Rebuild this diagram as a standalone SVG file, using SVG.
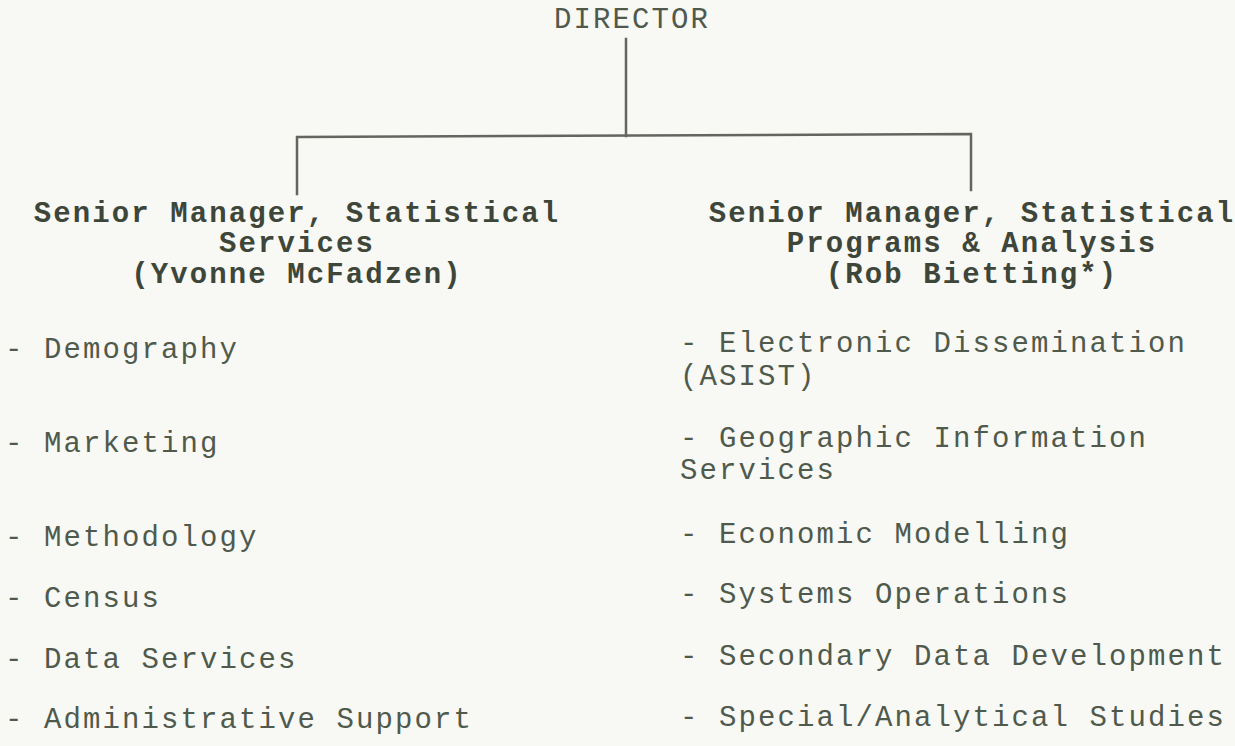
<svg xmlns="http://www.w3.org/2000/svg" width="1235" height="746" viewBox="0 0 1235 746">
<style>
  .t { font-family: "Liberation Mono", "Courier New", monospace; font-size: 29px; letter-spacing: 2.1px; fill: #4f5a4c; }
  .h { font-weight: bold; fill: #3d4639; text-anchor: middle; }
  .c { text-anchor: middle; }
  .ln { stroke: #62665f; stroke-width: 2.5; fill: none; stroke-linecap: square; }
</style>
<rect width="1235" height="746" fill="#f8f8f5"/>
<g id="connectors">
  <path class="ln" d="M626 39 V136"/>
  <path class="ln" d="M297 194 V137 L971 134 V190"/>
</g>
<g id="director">
  <text class="t c" x="632" y="28">DIRECTOR</text>
</g>
<g id="senior-manager-services">
  <text class="t h" x="297" y="222">Senior Manager, Statistical</text>
  <text class="t h" x="297" y="252">Services</text>
  <text class="t h" x="297" y="283">(Yvonne McFadzen)</text>
</g>
<g id="senior-manager-programs">
  <text class="t h" x="972" y="222">Senior Manager, Statistical</text>
  <text class="t h" x="972" y="252">Programs &amp; Analysis</text>
  <text class="t h" x="972" y="283">(Rob Bietting*)</text>
</g>
<g id="services-units">
  <text class="t" x="5" y="358">- Demography</text>
  <text class="t" x="5" y="452">- Marketing</text>
  <text class="t" x="5" y="546">- Methodology</text>
  <text class="t" x="5" y="607">- Census</text>
  <text class="t" x="5" y="668">- Data Services</text>
  <text class="t" x="5" y="728">- Administrative Support</text>
</g>
<g id="programs-units">
  <text class="t" x="680" y="352">- Electronic Dissemination</text>
  <text class="t" x="680" y="385">(ASIST)</text>
  <text class="t" x="680" y="447">- Geographic Information</text>
  <text class="t" x="680" y="479">Services</text>
  <text class="t" x="680" y="543">- Economic Modelling</text>
  <text class="t" x="680" y="603">- Systems Operations</text>
  <text class="t" x="680" y="665">- Secondary Data Development</text>
  <text class="t" x="680" y="726">- Special/Analytical Studies</text>
</g>
</svg>
